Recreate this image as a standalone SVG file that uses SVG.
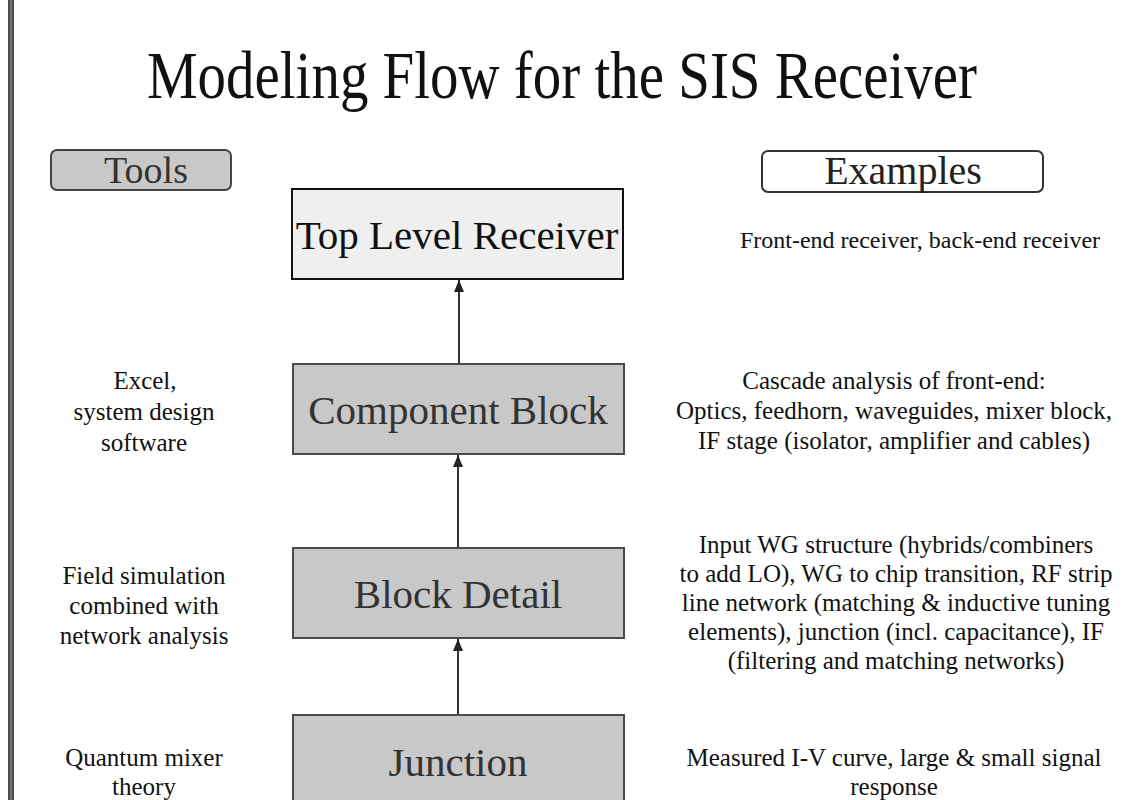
<svg xmlns="http://www.w3.org/2000/svg" width="1138" height="800" viewBox="0 0 1138 800">
<defs>
<marker id="arr" viewBox="0 0 12 10" refX="12" refY="5" markerWidth="12" markerHeight="10" markerUnits="userSpaceOnUse" orient="auto">
<path d="M0,0 L12,5 L0,10 z" fill="#222"/>
</marker>
</defs>
<style>
text{font-family:"Liberation Serif","Times New Roman",serif;}
.title{font-size:68px;fill:#111;text-anchor:middle;}
.lbl{font-size:25px;fill:#111;text-anchor:middle;}
.node{font-size:41px;text-anchor:middle;}
.box{fill:#c8c8c8;stroke:#4a4a4a;stroke-width:2;}
.conn{stroke:#333;stroke-width:2;fill:none;marker-end:url(#arr);}
</style>
<rect width="1138" height="800" fill="#fff"/>
<rect x="8" y="0" width="6" height="800" fill="#4d4d4d"/>
<line x1="11" y1="0" x2="11" y2="800" stroke="#9a9a9a" stroke-width="1"/>
<text class="title" x="562" y="98" textLength="830" lengthAdjust="spacingAndGlyphs">Modeling Flow for the SIS Receiver</text>
<g id="tools">
<rect x="51" y="150" width="180" height="40" rx="6" fill="#c8c8c8" stroke="#444" stroke-width="2"/>
<text x="146" y="183" font-size="38" text-anchor="middle" fill="#333">Tools</text>
</g>
<g id="examples">
<rect x="762" y="151" width="281" height="41" rx="6" fill="#fff" stroke="#333" stroke-width="2"/>
<text x="903" y="184" font-size="40" text-anchor="middle" fill="#222">Examples</text>
</g>
<g id="top">
<rect x="292" y="189" width="331" height="90" fill="#efefef" stroke="#111" stroke-width="2"/>
<text class="node" x="457" y="249" fill="#111">Top Level Receiver</text>
</g>
<g id="component">
<rect class="box" x="293" y="364" width="331" height="90"/>
<text class="node" x="458" y="424" font-size="42" fill="#333">Component Block</text>
</g>
<g id="blockdetail">
<rect class="box" x="293" y="548" width="331" height="90"/>
<text class="node" x="458" y="608" fill="#333">Block Detail</text>
</g>
<g id="junction">
<rect class="box" x="293" y="715" width="331" height="100"/>
<text class="node" x="458" y="776" fill="#333">Junction</text>
</g>
<g id="connectors">
<line class="conn" x1="459" y1="363" x2="459" y2="280"/>
<line class="conn" x1="458" y1="547" x2="458" y2="455"/>
<line class="conn" x1="458" y1="714" x2="458" y2="639"/>
</g>
<g id="tools-text">
<text class="lbl" x="145" y="389">Excel,</text>
<text class="lbl" x="144" y="420">system design</text>
<text class="lbl" x="144" y="451">software</text>
<text class="lbl" x="144" y="584">Field simulation</text>
<text class="lbl" x="144" y="614">combined with</text>
<text class="lbl" x="144" y="644">network analysis</text>
<text class="lbl" x="144" y="766">Quantum mixer</text>
<text class="lbl" x="144" y="795">theory</text>
</g>
<g id="examples-text">
<text class="lbl" x="920" y="248" style="font-size:24px">Front-end receiver, back-end receiver</text>
<text class="lbl" x="894" y="389">Cascade analysis of front-end:</text>
<text class="lbl" x="894" y="419">Optics, feedhorn, waveguides, mixer block,</text>
<text class="lbl" x="894" y="449">IF stage (isolator, amplifier and cables)</text>
<text class="lbl" x="896" y="553">Input WG structure (hybrids/combiners</text>
<text class="lbl" x="896" y="582">to add LO), WG to chip transition, RF strip</text>
<text class="lbl" x="896" y="611">line network (matching &amp; inductive tuning</text>
<text class="lbl" x="896" y="640">elements), junction (incl. capacitance), IF</text>
<text class="lbl" x="896" y="669">(filtering and matching networks)</text>
<text class="lbl" x="894" y="766">Measured I-V curve, large &amp; small signal</text>
<text class="lbl" x="894" y="795">response</text>
</g>
</svg>
